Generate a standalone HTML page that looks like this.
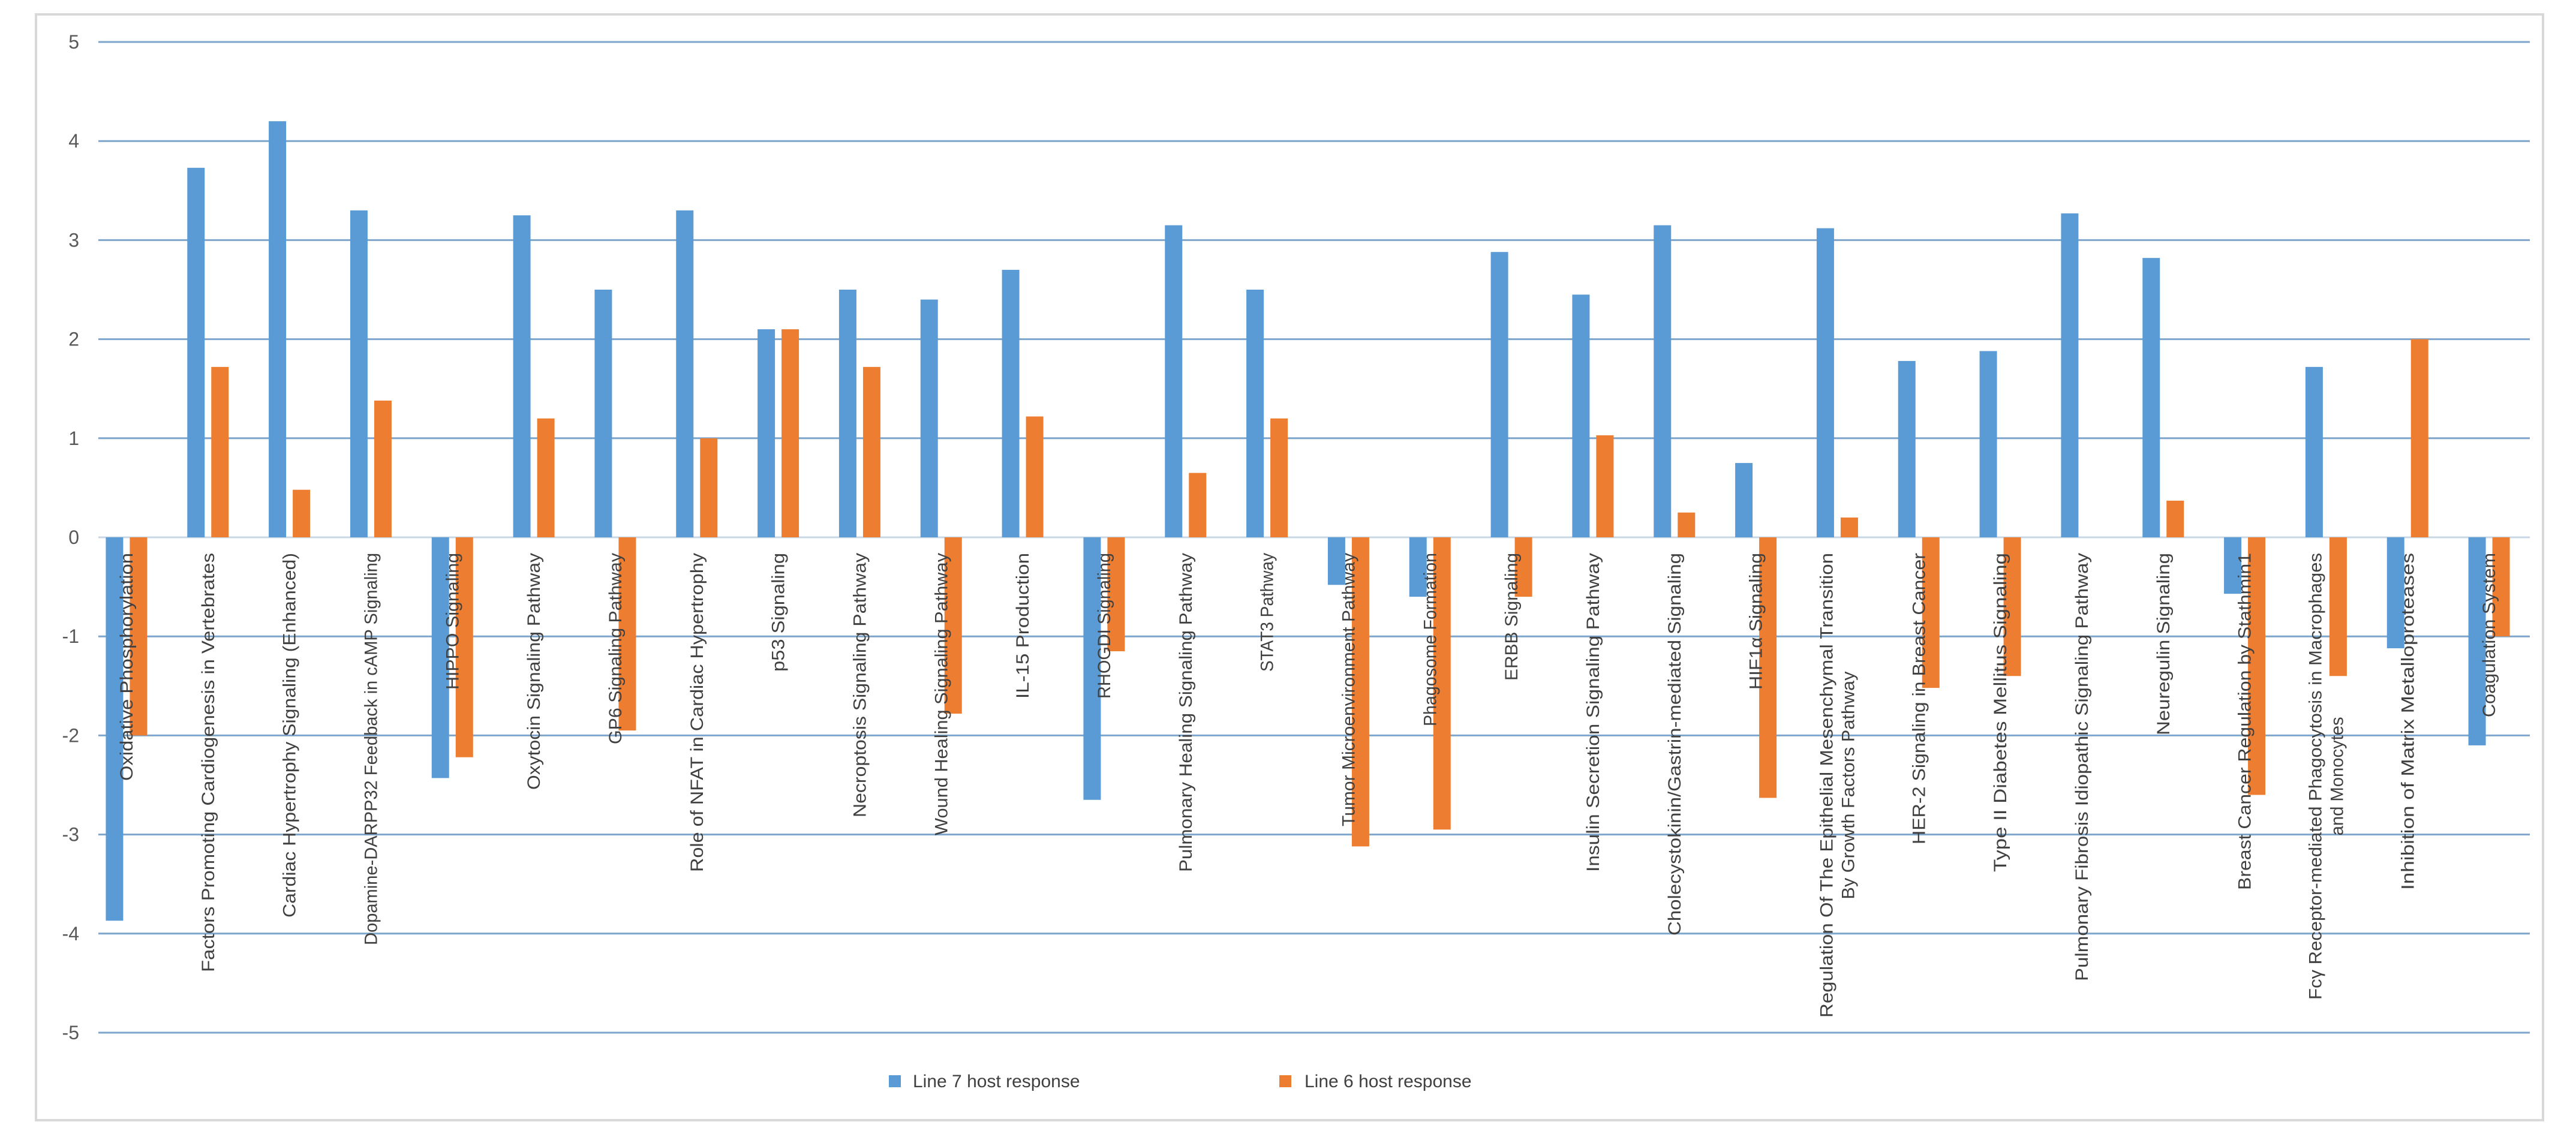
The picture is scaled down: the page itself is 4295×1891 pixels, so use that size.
<!DOCTYPE html>
<html><head><meta charset="utf-8"><style>
html,body{margin:0;padding:0;background:#fff;}
svg{display:block;}
</style></head>
<body>
<svg id="chart" width="4295" height="1891" viewBox="0 0 4295 1891" xmlns="http://www.w3.org/2000/svg">
<rect x="0" y="0" width="4295" height="1891" fill="#fff"/>
<rect x="60" y="24" width="4180" height="1844" fill="#fff" stroke="#d9d9d9" stroke-width="4"/>
<g id="grid"></g>
<g id="bars"></g>
<g id="xlabels"></g>
<g id="ylabels"></g>
<g>
<rect x="1482" y="1793" width="20" height="20" fill="#5b9bd5"/>
<text x="1522" y="1813" font-family="Liberation Sans, sans-serif" font-size="30" fill="#404040">Line 7 host response</text>
<rect x="2133" y="1793" width="20" height="20" fill="#ed7d31"/>
<text x="2175" y="1813" font-family="Liberation Sans, sans-serif" font-size="30" fill="#404040">Line 6 host response</text>
</g>
</svg>
<script>
const categories = [
 ["Oxidative Phosphorylation"],
 ["Factors Promoting Cardiogenesis in Vertebrates"],
 ["Cardiac Hypertrophy Signaling (Enhanced)"],
 ["Dopamine-DARPP32 Feedback in cAMP Signaling"],
 ["HIPPO Signaling"],
 ["Oxytocin Signaling Pathway"],
 ["GP6 Signaling Pathway"],
 ["Role of NFAT in Cardiac Hypertrophy"],
 ["p53 Signaling"],
 ["Necroptosis Signaling Pathway"],
 ["Wound Healing Signaling Pathway"],
 ["IL-15 Production"],
 ["RHOGDI Signaling"],
 ["Pulmonary Healing Signaling Pathway"],
 ["STAT3 Pathway"],
 ["Tumor Microenvironment Pathway"],
 ["Phagosome Formation"],
 ["ERBB Signaling"],
 ["Insulin Secretion Signaling Pathway"],
 ["Cholecystokinin/Gastrin-mediated Signaling"],
 ["HIF1α Signaling"],
 ["Regulation Of The Epithelial Mesenchymal Transition","By Growth Factors Pathway"],
 ["HER-2 Signaling in Breast Cancer"],
 ["Type II Diabetes Mellitus Signaling"],
 ["Pulmonary Fibrosis Idiopathic Signaling Pathway"],
 ["Neuregulin Signaling"],
 ["Breast Cancer Regulation by Stathmin1"],
 ["Fcγ Receptor-mediated Phagocytosis in Macrophages","and Monocytes"],
 ["Inhibition of Matrix Metalloproteases"],
 ["Coagulation System"]
];
const line7 = [-3.87,3.73,4.2,3.3,-2.43,3.25,2.5,3.3,2.1,2.5,2.4,2.7,-2.65,3.15,2.5,-0.48,-0.6,2.88,2.45,3.15,0.75,3.12,1.78,1.88,3.27,2.82,-0.57,1.72,-1.12,-2.1];
const line6 = [-2.0,1.72,0.48,1.38,-2.22,1.2,-1.95,1.0,2.1,1.72,-1.78,1.22,-1.15,0.65,1.2,-3.12,-2.95,-0.6,1.03,0.25,-2.63,0.2,-1.52,-1.4,0,0.37,-2.6,-1.4,2.0,-1.0];
const yTicks = [5,4,3,2,1,0,-1,-2,-3,-4,-5];

const NS="http://www.w3.org/2000/svg";
const gridL=164, gridR=4218, bandL=143, bandR=4218, zeroY=896, unit=165.2;
const y=v=>zeroY - v*unit;
const bandW=(bandR-bandL)/categories.length;
const xc=i=>bandL+bandW*(i+0.5);
function mk(tag,attrs,parent){const e=document.createElementNS(NS,tag);for(const k in attrs)e.setAttribute(k,attrs[k]);parent.appendChild(e);return e;}
const grid=document.getElementById('grid'), ylab=document.getElementById('ylabels');
yTicks.forEach(t=>{
 const l=mk('line',{x1:gridL,x2:gridR,y1:y(t),y2:y(t),stroke:t===0?'#c8d6e5':'#7ea6cc','stroke-width':3},grid);
 
 
 const tx=mk('text',{x:132,y:y(t)+11,'text-anchor':'end','font-family':'Liberation Sans, sans-serif','font-size':32,fill:'#595959'},ylab);
 tx.textContent=t;
 
 
});
const bars=document.getElementById('bars'), xl=document.getElementById('xlabels');
const bw=29, gap=11;
categories.forEach((c,i)=>{
 const cx=xc(i);
 const v7=line7[i], v6=line6[i];
 const b7=mk('rect',{x:cx-gap/2-bw,y:Math.min(y(v7),zeroY),width:bw,height:Math.abs(y(v7)-zeroY),fill:'#5b9bd5'},bars);
 
 
 const b6=mk('rect',{x:cx+gap/2,y:Math.min(y(v6),zeroY),width:bw,height:Math.abs(y(v6)-zeroY),fill:'#ed7d31'},bars);
 
 
 const n=c.length;
 c.forEach((s,j)=>{
  const off=(j-(n-1)/2)*36;
  const lx=cx+off+10;
  const t=mk('text',{x:0,y:0,transform:`translate(${lx},922) rotate(-90)`,'text-anchor':'end','font-family':'Liberation Sans Narrow, Liberation Sans, sans-serif','font-size':30,fill:'#404040',textLength:Math.round(s.length*15.2),lengthAdjust:'spacingAndGlyphs'},xl);
  if(j>0){t.setAttribute('text-anchor','middle');t.setAttribute('transform',`translate(${lx},${922+ (c[0].length*15.2)/2}) rotate(-90)`);}
  t.textContent=s;
  
  
 });
});
</script>
</body></html>
